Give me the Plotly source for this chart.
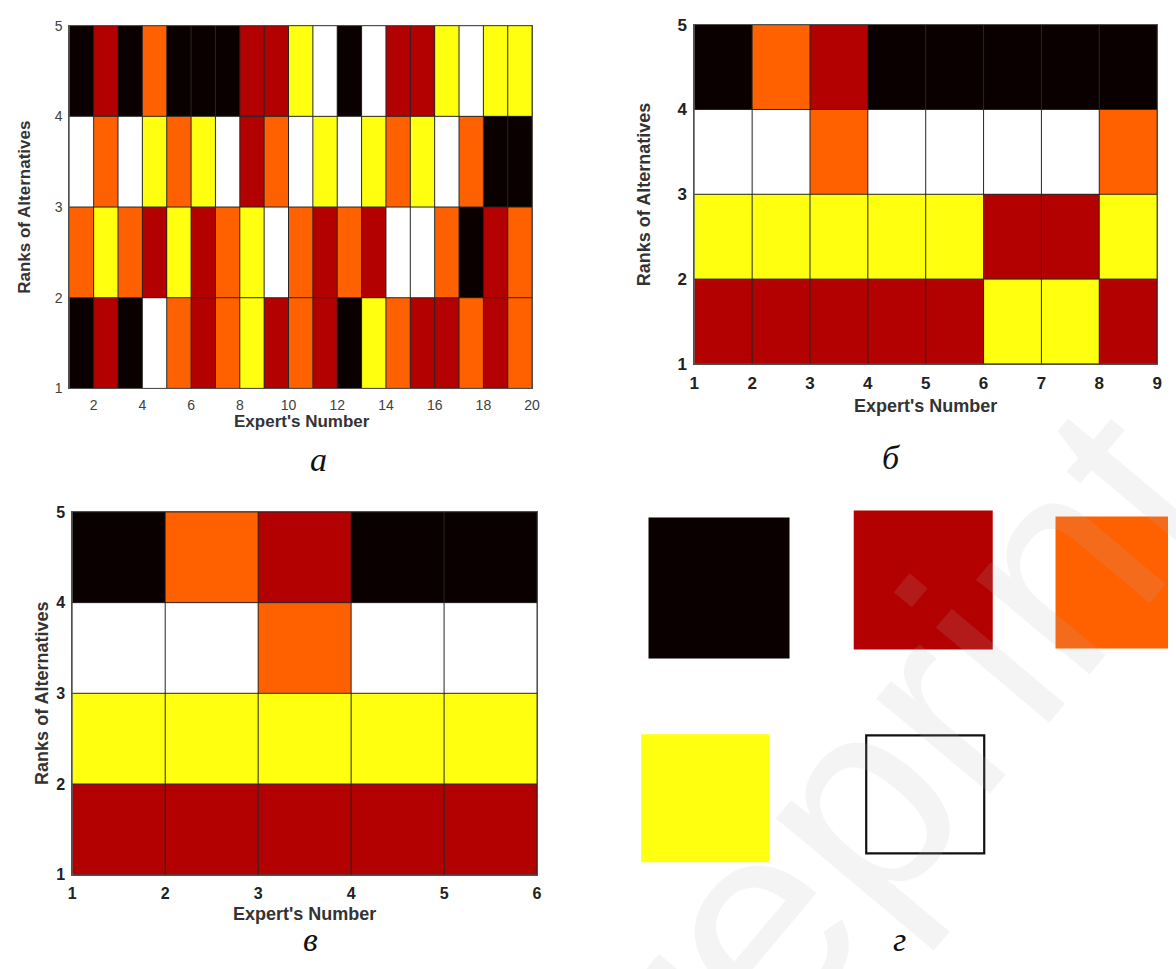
import plotly.graph_objects as go

W, H = 1176, 969

# ---- colour categories (MATLAB "hot" style) ----
CODES = ["K", "R", "O", "Y", "W"]
CODE_COLORS = ["#0b0000", "#b30000", "#ff6000", "#ffff10", "#ffffff"]

# ---- Panel а : 19 experts (x 1..20), ranks 1..5 ----
a_experts = list(range(1, 21))
a_rank1 = ["K", "R", "K", "W", "O", "R", "O", "Y", "R", "O", "R", "K", "Y", "O", "R", "R", "O", "R", "O"]
a_rank2 = ["O", "Y", "O", "R", "Y", "R", "O", "Y", "W", "O", "R", "O", "R", "W", "W", "O", "K", "R", "O"]
a_rank3 = ["W", "O", "W", "Y", "O", "Y", "W", "R", "O", "W", "Y", "W", "Y", "O", "Y", "W", "O", "K", "K"]
a_rank4 = ["K", "R", "K", "O", "K", "K", "K", "R", "R", "Y", "W", "K", "W", "R", "R", "Y", "W", "Y", "Y"]

# ---- Panel б : 8 experts (x 1..9) ----
b_experts = list(range(1, 10))
b_rank1 = ["R", "R", "R", "R", "R", "Y", "Y", "R"]
b_rank2 = ["Y", "Y", "Y", "Y", "Y", "R", "R", "Y"]
b_rank3 = ["W", "W", "O", "W", "W", "W", "W", "O"]
b_rank4 = ["K", "O", "R", "K", "K", "K", "K", "K"]

# ---- Panel в : 5 experts (x 1..6) ----
c_experts = list(range(1, 7))
c_rank1 = ["R", "R", "R", "R", "R"]
c_rank2 = ["Y", "Y", "Y", "Y", "Y"]
c_rank3 = ["W", "W", "O", "W", "W"]
c_rank4 = ["K", "O", "R", "K", "K"]

ranks = [1, 2, 3, 4, 5]

# ---- Panel г : colour key ----
key_colors = ["K", "R", "O", "Y", "W"]

# ---- tick labels ----
a_xticks = [2, 4, 6, 8, 10, 12, 14, 16, 18, 20]
b_xticks = [1, 2, 3, 4, 5, 6, 7, 8, 9]
c_xticks = [1, 2, 3, 4, 5, 6]
yticks = [1, 2, 3, 4, 5]

x_title = "Expert's Number"
y_title = "Ranks of Alternatives"
panel_letters = ["а", "б", "в", "г"]

# ---------------------------------------------------------------
n = len(CODES)
colorscale = []
for i, c in enumerate(CODE_COLORS):
    colorscale.append([i / n, c])
    colorscale.append([(i + 1) / n, c])

CELL_EDGE = "#262626"
LINE = "#505050"


def codes(row):
    return [CODES.index(v) for v in row]


def px_x(p):
    return p / W


def px_y(p):
    return 1 - p / H


fig = go.Figure()

panels = [
    dict(x=a_experts, rows=[a_rank1, a_rank2, a_rank3, a_rank4], xa="x", ya="y"),
    dict(x=b_experts, rows=[b_rank1, b_rank2, b_rank3, b_rank4], xa="x2", ya="y2"),
    dict(x=c_experts, rows=[c_rank1, c_rank2, c_rank3, c_rank4], xa="x3", ya="y3"),
]
for p in panels:
    fig.add_trace(go.Heatmap(
        x=p["x"], y=ranks, z=[codes(r) for r in p["rows"]],
        colorscale=colorscale, zmin=-0.5, zmax=n - 0.5, showscale=False,
        xaxis=p["xa"], yaxis=p["ya"], hoverinfo="skip",
    ))
    # cell borders along the same cell edges
    lx, ly = [], []
    for xe in p["x"]:
        lx += [xe, xe, None]
        ly += [ranks[0], ranks[-1], None]
    for ye in ranks:
        lx += [p["x"][0], p["x"][-1], None]
        ly += [ye, ye, None]
    fig.add_trace(go.Scatter(
        x=lx, y=ly, mode="lines", xaxis=p["xa"], yaxis=p["ya"],
        line=dict(color=CELL_EDGE, width=1), hoverinfo="skip", showlegend=False,
    ))

# colour key (panel г) on a pixel-scaled helper axis
key_cx = [722, 928.5, 1129, 708, 930.5]
key_cy = [590.5, 582.5, 585, 805, 801]
key_size = [141, 139, 132, 128, 118]
fig.add_trace(go.Scatter(
    x=key_cx, y=key_cy, mode="markers", xaxis="x4", yaxis="y4",
    marker=dict(symbol="square", size=key_size, opacity=1,
                color=[CODE_COLORS[CODES.index(k)] for k in key_colors],
                line=dict(width=[0, 0, 0, 0, 2.2],
                          color=["rgba(0,0,0,0)"] * 4 + ["#111111"])),
    hoverinfo="skip", showlegend=False,
))


def xaxis_cfg(dom, rng, tickvals, font, standoff, anchor):
    return dict(domain=dom, range=rng, tickmode="array", tickvals=tickvals,
                showgrid=False, zeroline=False, showline=True, mirror=True,
                linecolor=LINE, linewidth=1, ticks="", tickfont=font,
                ticklabelstandoff=standoff, anchor=anchor)


def yaxis_cfg(dom, font, anchor, standoff):
    return dict(domain=dom, range=[1, 5], tickmode="array", tickvals=yticks,
                showgrid=False, zeroline=False, showline=True, mirror=True,
                linecolor=LINE, linewidth=1, ticks="", tickfont=font, anchor=anchor,
                ticklabelstandoff=standoff)


font_a = dict(family="Liberation Sans", size=14, color="#404040")
font_b = dict(family="Liberation Sans", size=17, color="#222222", weight="bold")
font_c = dict(family="Liberation Sans", size=16, color="#222222", weight="bold")

fig.update_layout(
    width=W, height=H, margin=dict(l=0, r=0, t=0, b=0),
    paper_bgcolor="white", plot_bgcolor="white", showlegend=False,
    xaxis=xaxis_cfg([px_x(65), px_x(533)], [1, 20], a_xticks, font_a, 4, "y"),
    yaxis=yaxis_cfg([px_y(387), px_y(17)], font_a, "x", 3),
    xaxis2=xaxis_cfg([px_x(697), px_x(1165)], [1, 9], b_xticks, font_b, 4, "y2"),
    yaxis2=yaxis_cfg([px_y(362), px_y(16)], font_b, "x2", 3),
    xaxis3=xaxis_cfg([px_x(68), px_x(538)], [1, 6], c_xticks, font_c, 4, "y3"),
    yaxis3=yaxis_cfg([px_y(883), px_y(513)], font_c, "x3", 3),
    xaxis4=dict(domain=[px_x(600), 1], range=[600, W], visible=False, anchor="y4"),
    yaxis4=dict(domain=[0, px_y(480)], range=[H, 480], visible=False, anchor="x4"),
)

ann = []
# axis titles
title_specs = [
    (300, 421, 19, 202, 17),
    (931, 405, 646, 189, 18),
    (303, 923, 38, 698, 18),
]
for (tx, ty, yx, yy, fs) in title_specs:
    ann.append(dict(text="<b>" + x_title + "</b>", x=px_x(tx), y=px_y(ty), xref="paper", yref="paper",
                    showarrow=False, xanchor="center", yanchor="middle",
                    font=dict(family="Liberation Sans", size=fs, color="#333333")))
    ann.append(dict(text="<b>" + y_title + "</b>", x=px_x(yx), y=px_y(yy), xref="paper", yref="paper",
                    showarrow=False, xanchor="center", yanchor="middle", textangle=-90,
                    font=dict(family="Liberation Sans", size=fs, color="#333333")))

# panel letters (top pair centred, bottom pair sitting on the lower edge)
letter_specs = [(317, px_y(460), "middle"), (896, px_y(457), "middle"),
                (309, 0, "bottom"), (904, 0, "bottom")]
for letter, (lx, ly, ya) in zip(panel_letters, letter_specs):
    ann.append(dict(text="<i>" + letter + "</i>", x=px_x(lx), y=ly, xref="paper", yref="paper",
                    showarrow=False, xanchor="center", yanchor=ya, borderpad=0,
                    font=dict(family="Liberation Serif", size=34, color="#111111")))

# faint watermark
ann.append(dict(text="Preprint", x=px_x(843), y=px_y(831), xref="paper", yref="paper",
                showarrow=False, xanchor="center", yanchor="middle", textangle=-50,
                font=dict(family="Liberation Sans", size=280, color="rgba(183,183,183,0.15)")))

fig.update_layout(annotations=ann)
fig.write_html("out.html", config={"displayModeBar": False},
               post_script="document.body.style.margin='0';document.body.style.overflow='hidden';")
